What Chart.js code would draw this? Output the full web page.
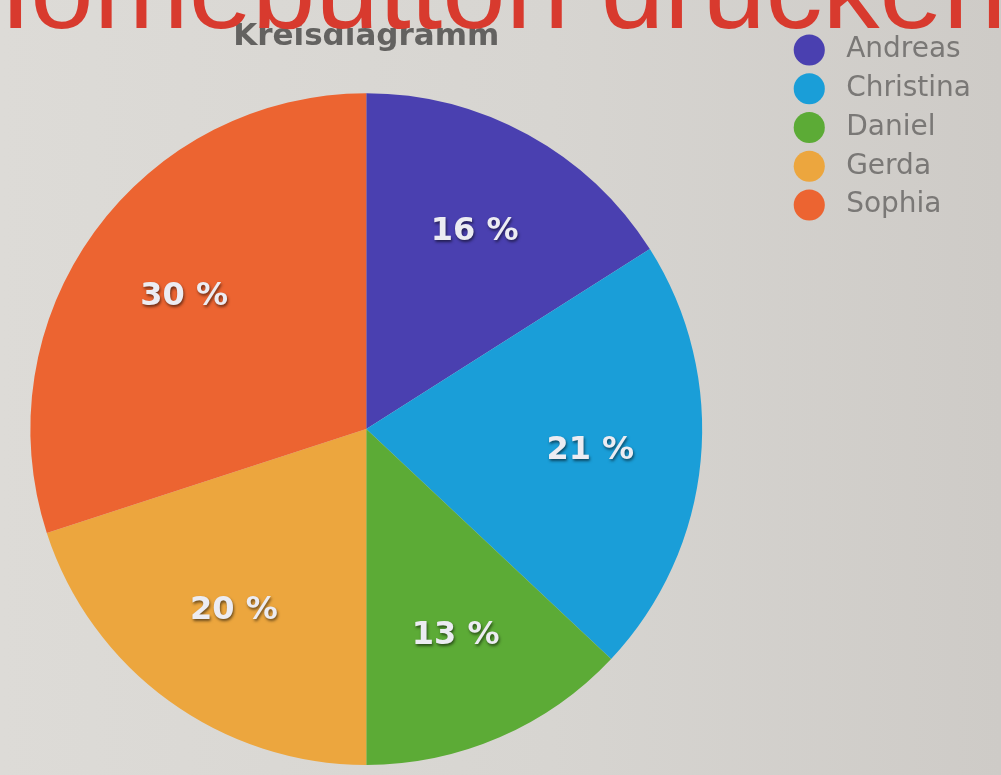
<!DOCTYPE html>
<html lang="de">
<head>
<meta charset="utf-8">
<title>Kreisdiagramm</title>
<script src="https://cdn.jsdelivr.net/npm/chart.js@4"></script>
<style>
  html, body { margin: 0; padding: 0; width: 1001px; height: 775px; overflow: hidden; }
  body { position: relative; background: linear-gradient(90deg, #dddbd7 0%, #d7d5d1 55%, #cecbc7 100%); }
  /* canvas is shifted left so the pie sits where the photo has it */
  #wrap { position: absolute; left: -52px; top: 0; width: 1053px; height: 775px; }
  #banner { position: absolute; left: -52px; top: -68px; z-index: 2; white-space: nowrap;
            font: 114px/114px "Liberation Sans", Arial, sans-serif; color: #d83a2e; }
</style>
</head>
<body>
<div id="banner">Homebutton drücken</div>
<div id="wrap"><canvas id="pie"></canvas></div>
<script>
const names = ["Andreas", "Christina", "Daniel", "Gerda", "Sophia"];
const shares = [16, 21, 13, 20, 30];
const sliceColors = ["#4a40b0", "#1a9ed8", "#5cab36", "#eca63e", "#ec6431"];

// white percent labels inside each slice
const sliceLabels = {
  id: "sliceLabels",
  afterDatasetsDraw(chart) {
    const ctx = chart.ctx;
    const meta = chart.getDatasetMeta(0);
    ctx.save();
    ctx.font = 'bold 32px "DejaVu Sans", sans-serif';
    ctx.textAlign = "center";
    ctx.textBaseline = "middle";
    ctx.fillStyle = "#ececf2";
    ctx.shadowColor = "rgba(0,0,0,0.55)";
    ctx.shadowOffsetX = 1;
    ctx.shadowOffsetY = 2;
    ctx.shadowBlur = 3;
    meta.data.forEach((arc, i) => {
      const p = arc.getProps(["x", "y", "startAngle", "endAngle", "outerRadius"], true);
      const mid = (p.startAngle + p.endAngle) / 2;
      const r = p.outerRadius * 0.67;
      ctx.fillText(shares[i] + " %", p.x + Math.cos(mid) * r, p.y + Math.sin(mid) * r);
    });
    ctx.restore();
  }
};

const baseLabels = Chart.overrides.pie.plugins.legend.labels.generateLabels;

new Chart(document.getElementById("pie"), {
  type: "pie",
  data: {
    labels: names,
    datasets: [{ data: shares, backgroundColor: sliceColors, borderWidth: 0, hoverOffset: 0 }]
  },
  options: {
    responsive: true,
    maintainAspectRatio: false,
    animation: false,
    layout: { padding: { left: 0, right: 20, top: 0, bottom: 10 } },
    plugins: {
      title: {
        display: true,
        text: "Kreisdiagramm",
        fullSize: false,
        color: "#636260",
        font: { family: "DejaVu Sans", size: 31, weight: "bold" },
        padding: { top: 18, bottom: 38 }
      },
      legend: {
        position: "right",
        align: "start",
        title: { display: true, text: "", font: { size: 10, lineHeight: 1 }, padding: { top: 15.25, bottom: 0 } },
        labels: {
          usePointStyle: true,
          pointStyle: "circle",
          boxWidth: 28,
          boxHeight: 22,
          padding: 10.75,
          color: "#7a7876",
          font: { family: "DejaVu Sans", size: 28 },
          generateLabels(chart) {
            return baseLabels(chart).map(l => Object.assign(l, { text: " " + l.text }));
          }
        }
      },
      tooltip: { enabled: false }
    }
  },
  plugins: [sliceLabels]
});
</script>
</body>
</html>
